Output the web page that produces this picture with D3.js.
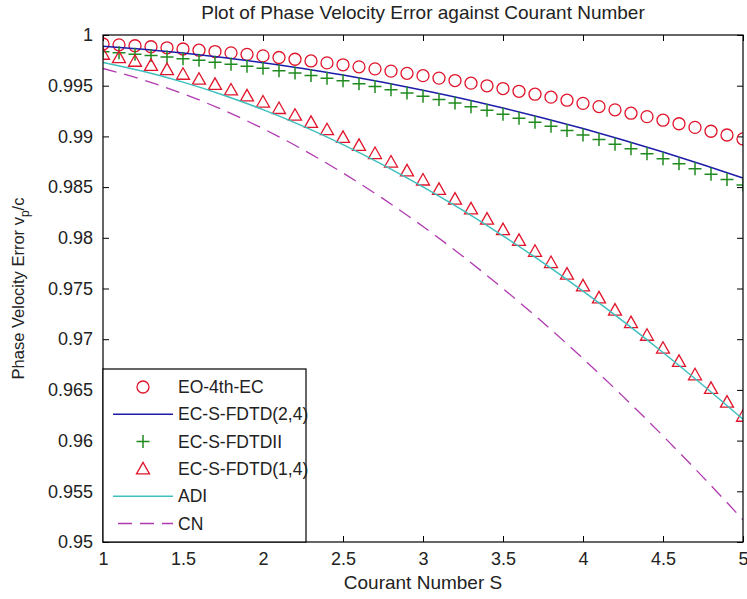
<!DOCTYPE html>
<html>
<head>
<meta charset="utf-8">
<script src="https://cdn.jsdelivr.net/npm/d3@7"></script>
<style>
  body { margin: 0; background: #fff; }
  text { font-family: "Liberation Sans", Arial, sans-serif; fill: #222; }
</style>
</head>
<body>
<svg id="chart"></svg>
<script>
// Courant numbers for the marker series (step 0.1) and for the line series (step 0.25)
var courantMarks = [1.0, 1.1, 1.2, 1.3, 1.4, 1.5, 1.6, 1.7, 1.8, 1.9, 2.0, 2.1, 2.2, 2.3, 2.4, 2.5, 2.6, 2.7, 2.8, 2.9,
    3.0, 3.1, 3.2, 3.3, 3.4, 3.5, 3.6, 3.7, 3.8, 3.9, 4.0, 4.1, 4.2, 4.3, 4.4, 4.5, 4.6, 4.7, 4.8, 4.9, 5.0];
var courantLine = [1, 1.25, 1.5, 1.75, 2, 2.25, 2.5, 2.75, 3, 3.25, 3.5, 3.75, 4, 4.25, 4.5, 4.75, 5];

// values
var eo4thEC = [0.99911, 0.99903, 0.99894, 0.99884, 0.99874, 0.99862, 0.99850, 0.99837, 0.99824, 0.99809,
    0.99794, 0.99778, 0.99761, 0.99744, 0.99725, 0.99706, 0.99686, 0.99666, 0.99644, 0.99622,
    0.99599, 0.99575, 0.99551, 0.99525, 0.99499, 0.99472, 0.99445, 0.99416, 0.99387, 0.99357,
    0.99326, 0.99294, 0.99262, 0.99229, 0.99195, 0.99160, 0.99125, 0.99089, 0.99051, 0.99014, 0.98975];
var ecSFDTD24 = [0.99890, 0.99859, 0.99822, 0.99778, 0.99727, 0.99670, 0.99605, 0.99534, 0.99456,
    0.99372, 0.99280, 0.99182, 0.99077, 0.98965, 0.98846, 0.98721, 0.98589];
var ecSFDTDII = [0.99835, 0.99824, 0.99811, 0.99797, 0.99783, 0.99767, 0.99750, 0.99732, 0.99712, 0.99692,
    0.99671, 0.99648, 0.99625, 0.99600, 0.99574, 0.99548, 0.99520, 0.99491, 0.99460, 0.99429,
    0.99397, 0.99363, 0.99329, 0.99293, 0.99257, 0.99219, 0.99180, 0.99140, 0.99099, 0.99057,
    0.99013, 0.98969, 0.98923, 0.98877, 0.98829, 0.98780, 0.98730, 0.98680, 0.98627, 0.98574, 0.98520];
var ecSFDTD14 = [0.99810, 0.99777, 0.99741, 0.99701, 0.99659, 0.99613, 0.99564, 0.99513, 0.99458, 0.99400,
    0.99339, 0.99275, 0.99209, 0.99139, 0.99066, 0.98991, 0.98912, 0.98831, 0.98747, 0.98660,
    0.98570, 0.98478, 0.98382, 0.98285, 0.98184, 0.98081, 0.97975, 0.97867, 0.97756, 0.97642,
    0.97526, 0.97408, 0.97287, 0.97164, 0.97039, 0.96911, 0.96781, 0.96649, 0.96515, 0.96379, 0.96240];
var adi = [0.99730, 0.99642, 0.99535, 0.99409, 0.99264, 0.99101, 0.98919, 0.98720, 0.98503,
    0.98270, 0.98020, 0.97755, 0.97474, 0.97178, 0.96869, 0.96546, 0.96210];
var cn = [0.99670, 0.99558, 0.99421, 0.99261, 0.99077, 0.98869, 0.98639, 0.98386, 0.98111,
    0.97816, 0.97499, 0.97164, 0.96809, 0.96436, 0.96046, 0.95640, 0.95219];

var xTicks = [1, 1.5, 2, 2.5, 3, 3.5, 4, 4.5, 5];
var yTicks = [0.95, 0.955, 0.96, 0.965, 0.97, 0.975, 0.98, 0.985, 0.99, 0.995, 1];
var legendNames = ['EO-4th-EC', 'EC-S-FDTD(2,4)', 'EC-S-FDTDII', 'EC-S-FDTD(1,4)', 'ADI', 'CN'];

var width = 747,
    height = 599,
    margin = {top: 35, right: 4, bottom: 57, left: 103};
var fontSize = 18;

var svg = d3.select('#chart')
    .attr('width', width)
    .attr('height', height);

var x = d3.scaleLinear().domain([1, 5]).range([margin.left, width - margin.right]);
var y = d3.scaleLinear().domain([0.95, 1]).range([height - margin.bottom, margin.top]);

svg.append('defs').append('clipPath').attr('id', 'plot-clip')
    .append('rect')
    .attr('x', x(1)).attr('y', y(1))
    .attr('width', x(5) - x(1)).attr('height', y(0.95) - y(1));

// axes with inward ticks, mirrored on top/right
var tickLen = 6;
var axisBottom = d3.axisBottom(x).tickValues(xTicks).tickSizeInner(-tickLen).tickSizeOuter(0)
    .tickPadding(10).tickFormat(d3.format('~g'));
var axisTop = d3.axisTop(x).tickValues(xTicks).tickSizeInner(-tickLen).tickSizeOuter(0).tickFormat('');
var axisLeft = d3.axisLeft(y).tickValues(yTicks).tickSizeInner(-tickLen).tickSizeOuter(0)
    .tickPadding(10).tickFormat(d3.format('~g'));
var axisRight = d3.axisRight(y).tickValues(yTicks).tickSizeInner(-tickLen).tickSizeOuter(0).tickFormat('');

function styleAxis(g) {
    g.select('.domain').remove();
    g.selectAll('line').attr('stroke', '#000');
    g.selectAll('text').attr('font-size', fontSize).attr('fill', '#222')
        .style('font-family', '"Liberation Sans", Arial, sans-serif');
}

svg.append('g').attr('transform', 'translate(0,' + y(0.95) + ')').call(axisBottom).call(styleAxis);
svg.append('g').attr('transform', 'translate(0,' + y(1) + ')').call(axisTop).call(styleAxis);
svg.append('g').attr('transform', 'translate(' + x(1) + ',0)').call(axisLeft).call(styleAxis);
svg.append('g').attr('transform', 'translate(' + x(5) + ',0)').call(axisRight).call(styleAxis);

var plot = svg.append('g').attr('clip-path', 'url(#plot-clip)');

var line = d3.line()
    .x(function (d) { return x(d[0]); })
    .y(function (d) { return y(d[1]); })
    .curve(d3.curveMonotoneX);

function pairs(xs, ys) {
    return xs.map(function (v, i) { return [v, ys[i]]; });
}

var red = '#e0142a', blue = '#1c1ca8', green = '#1f8a1f', cyan = '#3fbfbf', magenta = '#b03ab0';

var trianglePath = 'M0,-6.5L6.5,5L-6.5,5Z';
var plusPath = 'M-6.5,0H6.5M0,-6.5V6.5';

// EO-4th-EC circles
plot.append('g').selectAll('circle')
    .data(pairs(courantMarks, eo4thEC))
    .enter().append('circle')
    .attr('cx', function (d) { return x(d[0]); })
    .attr('cy', function (d) { return y(d[1]); })
    .attr('r', 6)
    .attr('fill', 'none')
    .attr('stroke', red)
    .attr('stroke-width', 1.3);

// EC-S-FDTD(2,4) line
plot.append('path')
    .datum(pairs(courantLine, ecSFDTD24))
    .attr('d', line)
    .attr('fill', 'none')
    .attr('stroke', blue)
    .attr('stroke-width', 1.5);

// EC-S-FDTDII plus markers
plot.append('g').selectAll('path')
    .data(pairs(courantMarks, ecSFDTDII))
    .enter().append('path')
    .attr('d', plusPath)
    .attr('transform', function (d) { return 'translate(' + x(d[0]) + ',' + y(d[1]) + ')'; })
    .attr('stroke', green)
    .attr('stroke-width', 1.5);

// EC-S-FDTD(1,4) triangles
plot.append('g').selectAll('path')
    .data(pairs(courantMarks, ecSFDTD14))
    .enter().append('path')
    .attr('d', trianglePath)
    .attr('transform', function (d) { return 'translate(' + x(d[0]) + ',' + y(d[1]) + ')'; })
    .attr('fill', 'none')
    .attr('stroke', red)
    .attr('stroke-width', 1.3);

// ADI
plot.append('path')
    .datum(pairs(courantLine, adi))
    .attr('d', line)
    .attr('fill', 'none')
    .attr('stroke', cyan)
    .attr('stroke-width', 1.5);

// CN dashed
plot.append('path')
    .datum(pairs(courantLine, cn))
    .attr('d', line)
    .attr('fill', 'none')
    .attr('stroke', magenta)
    .attr('stroke-width', 1.3)
    .attr('stroke-dasharray', '14,8');

// plot box
svg.append('rect')
    .attr('x', x(1)).attr('y', y(1))
    .attr('width', x(5) - x(1)).attr('height', y(0.95) - y(1))
    .attr('fill', 'none')
    .attr('stroke', '#000')
    .attr('stroke-width', 1.2);

// legend
var legendTop = 369, legendLeft = x(1), legendRight = 306, rowH = 27.3;
var legend = svg.append('g');
legend.append('rect')
    .attr('x', legendLeft).attr('y', legendTop)
    .attr('width', legendRight - legendLeft).attr('height', y(0.95) - legendTop)
    .attr('fill', '#fff')
    .attr('stroke', '#000')
    .attr('stroke-width', 1.2);

var rows = legend.selectAll('g.row')
    .data(legendNames)
    .enter().append('g')
    .attr('class', 'row')
    .attr('transform', function (d, i) { return 'translate(0,' + (legendTop + 18 + i * rowH) + ')'; });

rows.append('text')
    .attr('x', 178)
    .attr('dy', '0.35em')
    .attr('font-size', 17.5)
    .text(function (d) { return d; });

var lx0 = 113, lx1 = 173, lmid = 143;
rows.each(function (d, i) {
    var r = d3.select(this);
    if (i === 0) {
        r.append('circle').attr('cx', lmid).attr('cy', 0).attr('r', 6)
            .attr('fill', 'none').attr('stroke', red).attr('stroke-width', 1.3);
    } else if (i === 1) {
        r.append('line').attr('x1', lx0).attr('x2', lx1).attr('stroke', blue).attr('stroke-width', 1.5);
    } else if (i === 2) {
        r.append('path').attr('d', plusPath).attr('transform', 'translate(' + lmid + ',0)')
            .attr('stroke', green).attr('stroke-width', 1.5);
    } else if (i === 3) {
        r.append('path').attr('d', trianglePath).attr('transform', 'translate(' + lmid + ',0)')
            .attr('fill', 'none').attr('stroke', red).attr('stroke-width', 1.3);
    } else if (i === 4) {
        r.append('line').attr('x1', lx0).attr('x2', lx1).attr('stroke', cyan).attr('stroke-width', 1.5);
    } else {
        r.append('line').attr('x1', lx0 + 5).attr('x2', lx1).attr('stroke', magenta)
            .attr('stroke-width', 1.3).attr('stroke-dasharray', '14,8');
    }
});

// title and axis labels
svg.append('text')
    .attr('x', (x(1) + x(5)) / 2)
    .attr('y', 19)
    .attr('text-anchor', 'middle')
    .attr('font-size', 19)
    .text('Plot of Phase Velocity Error against Courant Number');

svg.append('text')
    .attr('x', (x(1) + x(5)) / 2)
    .attr('y', 589)
    .attr('text-anchor', 'middle')
    .attr('font-size', 19)
    .text('Courant Number S');

var ylab = svg.append('text')
    .attr('transform', 'translate(24,' + (y(0.975)) + ') rotate(-90)')
    .attr('text-anchor', 'middle')
    .attr('font-size', 16.5);
ylab.append('tspan').text('Phase Velocity Error v');
ylab.append('tspan').attr('dy', 5).attr('font-size', 12).text('p');
ylab.append('tspan').attr('dy', -5).text('/c');
</script>
</body>
</html>
